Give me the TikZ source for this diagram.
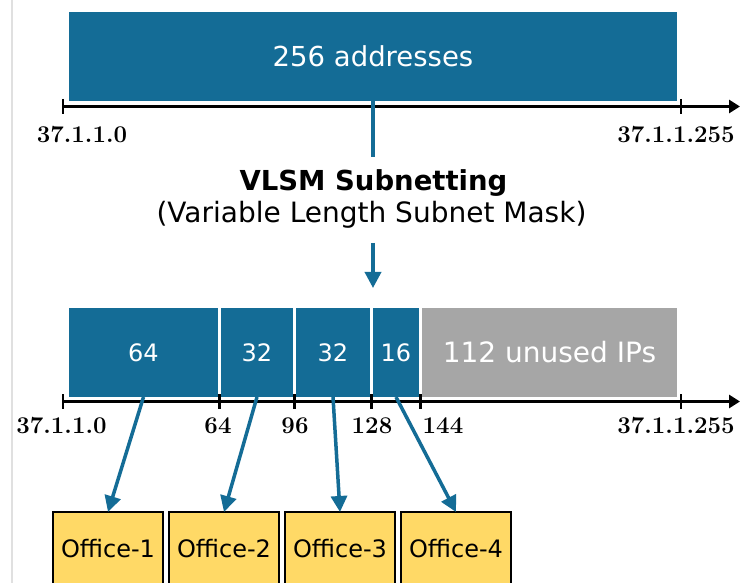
\documentclass[tikz,border=0pt]{standalone}
\usepackage{fontspec}
\setsansfont{DejaVu Sans}
\usetikzlibrary{positioning, arrows.meta}
\definecolor{netblue}{RGB}{20,108,150}
\definecolor{unusedgray}{RGB}{166,166,166}
\definecolor{officeyellow}{RGB}{255,217,102}

\begin{document}
\begin{tikzpicture}[
  x=1pt, y=-1pt,
  seg/.style={fill=netblue, text=white, inner sep=0pt, outer sep=0pt,
              minimum height=89pt, font=\sffamily\fontsize{24}{29}\selectfont},
  office/.style={draw=black, line width=2.5pt, fill=officeyellow, inner sep=0pt,
                 outer sep=0pt, minimum width=110pt, minimum height=74pt,
                 font=\sffamily\fontsize{24}{28}\selectfont},
  addr/.style={font=\bfseries\fontsize{24}{28}\selectfont, inner sep=0pt},
  axis/.style={line width=3.5pt, -{Triangle[length=11pt, width=13pt]}},
  tickmark/.style={line width=2.5pt},
  arr/.style={netblue, line width=3.5pt, -{Triangle[length=16pt, width=16pt]}}
]
\useasboundingbox (0,0) rectangle (740,583);
\clip (0,0) rectangle (740,583);
\fill[white] (0,0) rectangle (740,583);
\draw[black!12, line width=2pt] (12,0) -- (12,583);

% whole block
\node[seg, minimum width=608pt, font=\sffamily\fontsize{27.5}{33}\selectfont] (all) at (373,56.5) {256 addresses};
\coordinate (topstart) at (63,106.5);
\coordinate (topend) at (740,106.5);
\draw[axis] (topstart) -- (topend);
\foreach \x in {63,681}
  \draw[tickmark] (\x,99) -- (\x,114);
\node[addr] (topfirst) at (82,135) {37.1.1.0};
\node[addr] (toplast) at (676,135) {37.1.1.255};

% split
\coordinate (splitend) at (373,157);
\draw[netblue, line width=4pt] (all.south) -- (splitend);
\node[font=\sffamily\bfseries\fontsize{27.5}{33}\selectfont] (title) at (373.5,183) {VLSM Subnetting};
\node[font=\sffamily\fontsize{28}{33}\selectfont] (subtitle) at (371.5,215) {(Variable Length Subnet Mask)};
\coordinate (arrtop) at (373,243);
\coordinate (arrtip) at (373,288);
\draw[arr] (arrtop) -- (arrtip);

% subnets
\node[seg, minimum width=149pt, anchor=west] (s64) at (69,352.5) {64};
\node[seg, minimum width=72pt, right=3pt of s64] (s32a) {32};
\node[seg, minimum width=74pt, right=3pt of s32a] (s32b) {32};
\node[seg, minimum width=46pt, right=3pt of s32b] (s16) {16};
\node[seg, minimum width=255pt, fill=unusedgray, font=\sffamily\fontsize{28}{33}\selectfont, right=3pt of s16] (unused) {112 unused IPs};
\coordinate (botstart) at (63,401.5);
\coordinate (botend) at (740,401.5);
\draw[axis] (botstart) -- (botend);
\foreach \x in {63,219.5,294.5,371.5,420.5,681}
  \draw[tickmark] (\x,394) -- (\x,409);
\node[addr] (botfirst) at (61.5,426) {37.1.1.0};
\node[addr] (b64) at (218,426) {64};
\node[addr] (b96) at (295,426) {96};
\node[addr] (b128) at (372,426) {128};
\node[addr] (b144) at (443,426) {144};
\node[addr] (botlast) at (676,426) {37.1.1.255};

% offices
\node[office, anchor=north] (off1) at (108,512) {Office-1};
\node[office, right=6pt of off1] (off2) {Office-2};
\node[office, right=6pt of off2] (off3) {Office-3};
\node[office, right=6pt of off3] (off4) {Office-4};
\draw[arr] (s64.south) -- (off1.north);
\draw[arr] (s32a.south) -- (off2.north);
\draw[arr] (s32b.south) -- (off3.north);
\draw[arr] (s16.south) -- (off4.north);
\end{tikzpicture}
\end{document}
